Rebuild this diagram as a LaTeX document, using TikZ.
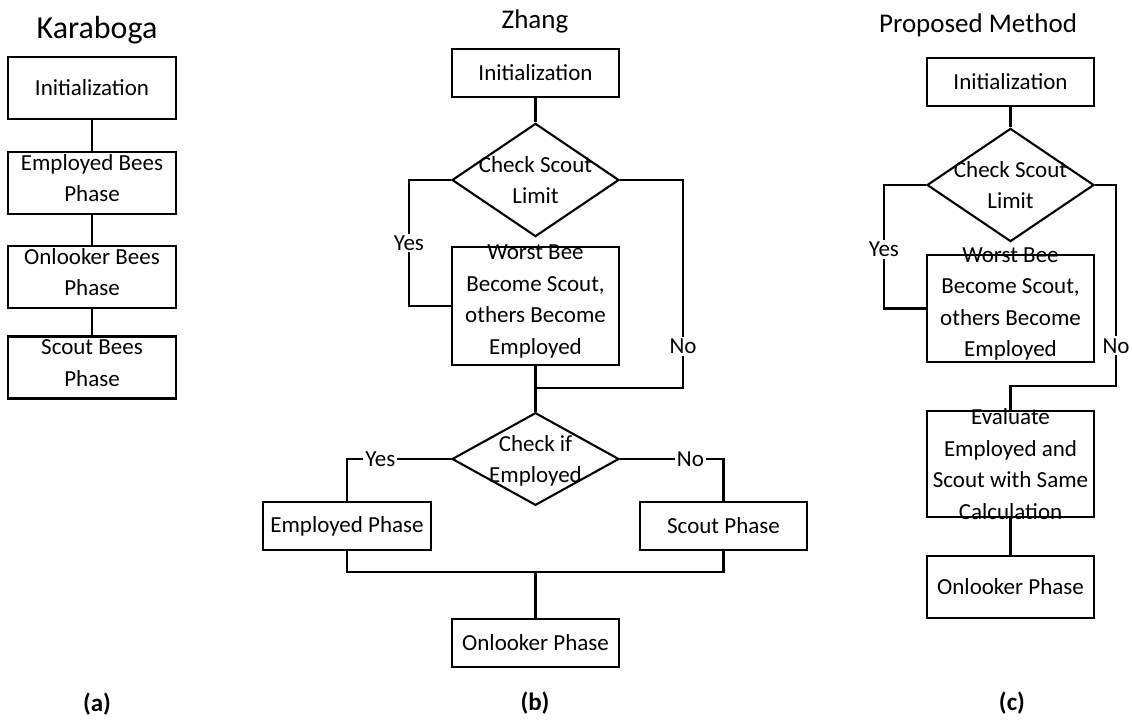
\documentclass[tikz,border=0pt]{standalone}
\usepackage{fontspec}
\setmainfont{Carlito}
\usetikzlibrary{shapes.geometric}
\newcommand{\ml}[2][0pt]{\smash{\raisebox{#1}{\begin{tabular}{@{}c@{}}#2\end{tabular}}}}

\begin{document}
\begin{tikzpicture}[x=1pt, y=-1pt, line width=2.1pt,
    font=\fontsize{23}{31.5}\selectfont,
    box/.style={draw, rectangle, minimum width=167pt, minimum height=48pt, inner sep=0pt},
    dia/.style={draw, diamond, minimum width=167pt, minimum height=106pt, inner sep=0pt},
    lbl/.style={fill=white, inner sep=2pt}]
    \useasboundingbox (0,0) rectangle (1132,722);

    % Karaboga
    \node[font=\fontsize{32}{38}\selectfont] (ttla) at (97,30) {Karaboga};
    \node[box, minimum width=168pt, minimum height=62pt] (inita) at (92,88) {Initialization};
    \node[box, minimum width=168pt, minimum height=62pt] (empa) at (92,183) {\ml[-3pt]{Employed Bees\\Phase}};
    \node[box, minimum width=168pt, minimum height=62pt] (onla) at (92,277) {\ml[-3pt]{Onlooker Bees\\Phase}};
    \node[box, minimum width=168pt, minimum height=62pt] (scta) at (92,367.5) {\ml[-3pt]{Scout Bees\\Phase}};
    \draw (inita) -- (empa) -- (onla) -- (scta);
    \node[font=\fontsize{25}{30}\selectfont\bfseries] (capa) at (97,704) {(a)};

    % Zhang
    \node[font=\fontsize{27}{32}\selectfont] (ttlb) at (535,21) {Zhang};
    \node[box] (initb) at (535.5,73) {Initialization};
    \node[dia] (chkb) at (535.5,180) {\ml[-8pt]{Check Scout\\Limit}};
    \node[box, minimum height=118pt] (worstb) at (535.5,306) {\ml[-1pt]{Worst Bee\\Become Scout,\\others Become\\Employed}};
    \coordinate (jb1) at (535.5,388);
    \node[dia, minimum height=82pt] (chkeb) at (535.5,459) {\ml[-8pt]{Check if\\Employed}};
    \node[box, minimum width=168pt] (empb) at (347,526) {Employed Phase};
    \node[box] (sctb) at (723.5,526) {Scout Phase};
    \coordinate (jb2) at (535.5,572);
    \node[box] (onlb) at (535.5,643) {Onlooker Phase};

    \draw (initb) -- (chkb);
    \draw (chkb.west) -- ++(-42,0) |- node[lbl, pos=.25] {Yes} (worstb.west);
    \draw (chkb.east) -- ++(63,0) |- node[lbl, pos=.4] {No} (jb1);
    \draw (worstb) -- (chkeb);
    \draw (chkeb.west) -| node[lbl, pos=.34] {Yes} (empb.north);
    \draw (chkeb.east) -| node[lbl, pos=.34] {No} (sctb.north);
    \draw (empb.south) |- (jb2) -| (sctb.south);
    \draw (jb2) -- (onlb);
    \node[font=\fontsize{25}{30}\selectfont\bfseries] (capb) at (535,703) {(b)};

    % Proposed method
    \node[font=\fontsize{27}{32}\selectfont] (ttlc) at (978,25) {Proposed Method};
    \node[box] (initc) at (1010.5,82) {Initialization};
    \node[dia, minimum height=104pt] (chkc) at (1010.5,185) {\ml[-8pt]{Check Scout\\Limit}};
    \node[box, minimum height=107pt] (worstc) at (1010.5,308.5) {\ml[-1pt]{Worst Bee\\Become Scout,\\others Become\\Employed}};
    \coordinate (jc) at (1010.5,386);
    \node[box, minimum height=106pt] (evalc) at (1010.5,464) {\ml[-8pt]{Evaluate\\Employed and\\Scout with Same\\Calculation}};
    \node[box, minimum height=62pt] (onlc) at (1010.5,587) {Onlooker Phase};

    \draw (initc) -- (chkc);
    \draw (chkc.west) -- ++(-42,0) |- node[lbl, pos=.26] {Yes} (worstc.west);
    \draw (chkc.east) -- ++(21,0) |- node[lbl, pos=.4] {No} (jc) -- (evalc);
    \draw (evalc) -- (onlc);
    \node[font=\fontsize{25}{30}\selectfont\bfseries] (capc) at (1012,703) {(c)};
\end{tikzpicture}
\end{document}
